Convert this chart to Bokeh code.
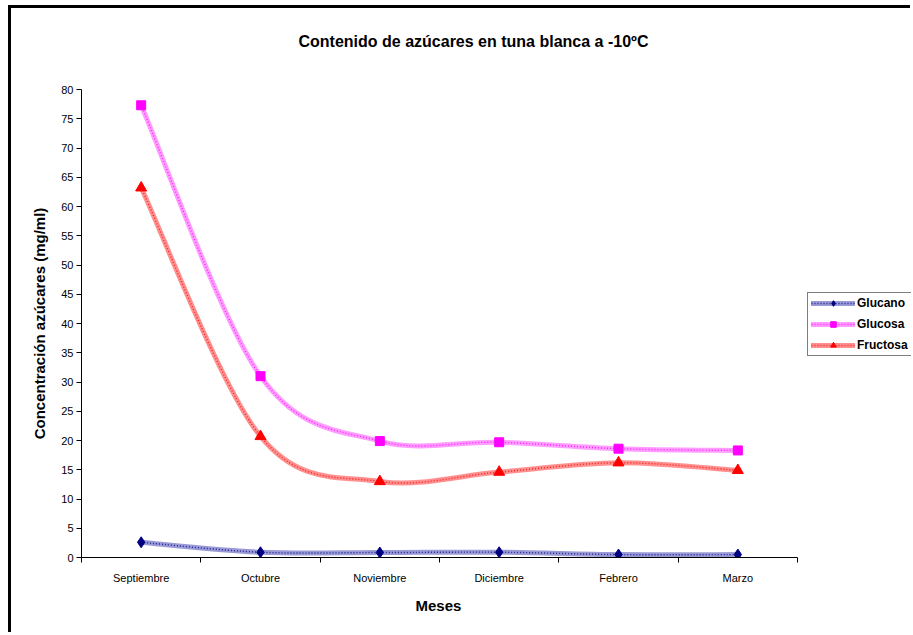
from bokeh.plotting import figure
from bokeh.models import Range1d, FixedTicker, Legend, LegendItem, ColumnDataSource, Title
from bokeh.embed import file_html
from bokeh.resources import INLINE

# Monthly sugar content (mg/ml) in white prickly pear stored at -10 ºC
meses = ["Septiembre", "Octubre", "Noviembre", "Diciembre", "Febrero", "Marzo"]
glucano = [2.6, 0.9, 0.85, 0.9, 0.5, 0.5]
glucosa = [77.3, 31.0, 19.9, 19.7, 18.6, 18.3]
fructosa = [63.2, 20.7, 13.0, 14.6, 16.2, 14.9]
y_ticks = list(range(0, 85, 5))

FONT = "'Liberation Sans', Arial, sans-serif"

# categories sit in the middle of unit-wide slots
n_cat = len(meses)
xs = [i + 0.5 for i in range(n_cat)]

# canvas layout (px): the frame runs on to the right edge so the legend can
# sit beside the category area; the axis itself is bounded to the categories
CANVAS_W, CANVAS_H = 902, 627
LEFT, RIGHT, TOP, BOTTOM = 70, 2, 81, 78
CAT_AREA_W = 716
frame_w = CANVAS_W - LEFT - RIGHT
x_end = n_cat * frame_w / CAT_AREA_W


def smooth_segments(x, y):
    """Cubic Bezier pieces through every point (Catmull-Rom style tangents)."""
    n = len(x)
    seg = dict(x0=[], y0=[], x1=[], y1=[], cx0=[], cy0=[], cx1=[], cy1=[])
    for i in range(n - 1):
        a = i - 1 if i > 0 else i
        d = i + 2 if i + 2 < n else i + 1
        seg["x0"].append(x[i])
        seg["y0"].append(y[i])
        seg["x1"].append(x[i + 1])
        seg["y1"].append(y[i + 1])
        seg["cx0"].append(x[i] + (x[i + 1] - x[a]) / 6)
        seg["cy0"].append(y[i] + (y[i + 1] - y[a]) / 6)
        seg["cx1"].append(x[i + 1] - (x[d] - x[i]) / 6)
        seg["cy1"].append(y[i + 1] - (y[d] - y[i]) / 6)
    return ColumnDataSource(seg)


p = figure(
    width=CANVAS_W, height=CANVAS_H,
    x_range=Range1d(0, x_end), y_range=Range1d(0, 80),
    output_backend="svg", toolbar_location=None,
    min_border_left=LEFT, min_border_right=RIGHT,
    min_border_top=TOP, min_border_bottom=BOTTOM,
    background_fill_color="white", border_fill_color="white",
)
p.title = None
p.styles = {
    "margin-left": "8px", "margin-top": "5px",
    "border-left": "3px solid black", "border-top": "3px solid black",
}
p.outline_line_color = None
p.grid.visible = False

# blank band between plotting area and heading, then the heading itself
p.add_layout(Title(text=" ", text_font_size="16px", standoff=21), "above")
p.add_layout(Title(
    text="Contenido de azúcares en tuna blanca a -10ºC",
    text_font=FONT, text_font_size="16px", text_font_style="bold",
    text_color="black", align="left", offset=217, standoff=0,
), "above")

# x axis: labels at slot centres, small ticks on slot boundaries
xax = p.xaxis[0]
xax.bounds = (0, n_cat)
xax.ticker = FixedTicker(ticks=xs, minor_ticks=list(range(n_cat + 1)))
xax.major_label_overrides = {x: m for x, m in zip(xs, meses)}
xax.major_tick_out = 0
xax.major_tick_in = 0
xax.minor_tick_out = 5
xax.minor_tick_in = 0
xax.minor_tick_line_color = "black"
xax.axis_line_color = "black"
xax.major_label_standoff = 9
xax.major_label_text_font = FONT
xax.major_label_text_font_size = "11px"
xax.major_label_text_color = "black"

# x-axis caption, centred under the category area
p.add_layout(Title(
    text="Meses", text_font=FONT, text_font_size="15px", text_font_style="bold",
    text_color="black", align="left", offset=334, vertical_align="top", standoff=20,
), "below")

yax = p.yaxis[0]
yax.ticker = FixedTicker(ticks=y_ticks, minor_ticks=[])
yax.major_tick_out = 5
yax.major_tick_in = 0
yax.major_tick_line_color = "black"
yax.axis_line_color = "black"
yax.major_label_standoff = 3
yax.major_label_text_font = FONT
yax.major_label_text_font_size = "11px"
yax.major_label_text_color = "black"
yax.axis_label = "Concentración azúcares (mg/ml)"
yax.axis_label_text_font = FONT
yax.axis_label_text_font_size = "15px"
yax.axis_label_text_font_style = "bold"
yax.axis_label_text_color = "black"
yax.axis_label_standoff = 10

series = [
    ("Glucano", glucano, "#000080", "#9a9ad6", dict(marker="diamond", size=11)),
    ("Glucosa", glucosa, "#ff00ff", "#ff9cff", dict(marker="square", size=9)),
    ("Fructosa", fructosa, "#ff0000", "#ff9090", dict(marker="triangle", size=11)),
]

items = []
for name, vals, dark, light, mk in series:
    src = smooth_segments(xs, vals)
    base = p.bezier("x0", "y0", "x1", "y1", "cx0", "cy0", "cx1", "cy1", source=src,
                    line_color=light, line_width=5, line_cap="round")
    dots = p.bezier("x0", "y0", "x1", "y1", "cx0", "cy0", "cx1", "cy1", source=src,
                    line_color=dark, line_width=1.4, line_dash="1 2", line_alpha=0.8)
    pts = p.scatter(xs, vals, fill_color=dark, line_color=dark, **mk)
    items.append(LegendItem(label=name, renderers=[base, dots, pts]))

# legend beside the category area, vertically centred on the plot
legend = Legend(
    items=items, location=(CAT_AREA_W + 10, 201), margin=0,
    border_line_color="black", border_line_width=1,
    background_fill_color="white", background_fill_alpha=1,
    label_text_font=FONT, label_text_font_size="12px", label_text_font_style="bold",
    label_text_color="black",
    glyph_width=44, glyph_height=14, label_height=14,
    spacing=7, padding=3, label_standoff=2,
)
p.add_layout(legend)

open("out.html", "w").write(file_html(p, INLINE))
